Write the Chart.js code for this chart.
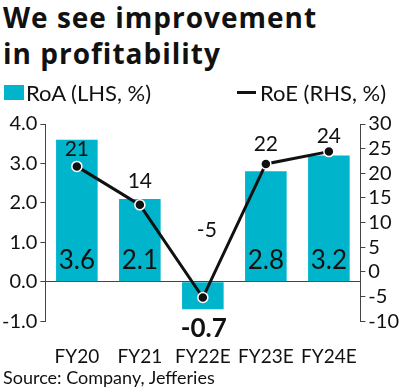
<!DOCTYPE html>
<html>
<head>
<meta charset="utf-8">
<script src="https://cdn.jsdelivr.net/npm/chart.js@4/dist/chart.umd.min.js"></script>
<style>
  html, body { margin: 0; padding: 0; background: #fff; }
  body { width: 399px; height: 392px; position: relative; overflow: hidden; font-family: "Lato", sans-serif; color: #111; }
  #title { position: absolute; left: 3px; top: -1px; font-family: "Open Sans", sans-serif; font-weight: 700; font-size: 28px; line-height: 36px; letter-spacing: 1px; z-index: 2; }
  #legend { position: absolute; left: 0; top: 78px; width: 399px; height: 28px; font-size: 22px; z-index: 2; }
  .leg { position: absolute; top: 0; display: flex; align-items: center; height: 28px; }
  .sw { width: 20px; height: 15px; background: #00B5CB; margin-right: 2px; }
  .ln { width: 19px; height: 3px; background: #111; margin-right: 4px; }
  #wrap { position: absolute; left: -1px; top: 104px; width: 403px; height: 280px; }
  #source { position: absolute; left: 3px; top: 366px; font-size: 18px; z-index: 2; }
</style>
</head>
<body>
<div id="title">We see improvement<br>in profitability</div>
<div id="legend">
  <div class="leg" style="left:4px"><div class="sw"></div><span>RoA (LHS, %)</span></div>
  <div class="leg" style="left:237px"><div class="ln"></div><span>RoE (RHS, %)</span></div>
</div>
<div id="wrap"><canvas id="c" width="403" height="280"></canvas></div>
<div id="source">Source: Company, Jefferies</div>
<script>
const categories = ["FY20", "FY21", "FY22E", "FY23E", "FY24E"];
const roa = [3.6, 2.1, -0.7, 2.8, 3.2];
const roe = [21.4, 13.6, -5.2, 21.9, 24.4];
const leftTicks = [-1, 0, 1, 2, 3, 4];
const rightTicks = [-10, -5, 0, 5, 10, 15, 20, 25, 30];

const TEAL = '#00B5CB';
const INK = '#111';
const FONT = 'Lato, sans-serif';

const labelPlugin = {
  id: 'valueLabels',
  afterDatasetsDraw(chart) {
    const ctx = chart.ctx;
    ctx.save();
    ctx.textAlign = 'center';
    ctx.textBaseline = 'middle';
    ctx.fillStyle = INK;
    const yL = chart.scales.yL;
    const zeroY = yL.getPixelForValue(0);
    const barMeta = chart.getDatasetMeta(0);
    barMeta.data.forEach((el, i) => {
      const v = roa[i];
      if (v >= 0) {
        ctx.font = '26px ' + FONT;
        ctx.fillText(v.toFixed(1), el.x, zeroY - 21);
      } else {
        ctx.font = 'bold 26px ' + FONT;
        ctx.fillText(v.toFixed(1), el.x + 1, el.y + 19);
      }
    });
    const lineMeta = chart.getDatasetMeta(1);
    const offs = [17, 24, 67, 20, 15];
    const dx = [0, 0, 4, 0, 0];
    lineMeta.data.forEach((el, i) => {
      ctx.font = '21px ' + FONT;
      ctx.fillText(String(Math.round(roe[i])), el.x + dx[i], el.y - offs[i]);
    });
    ctx.restore();
  }
};

new Chart(document.getElementById('c'), {
  data: {
    labels: categories,
    datasets: [
      {
        type: 'bar', data: roa, yAxisID: 'yL', backgroundColor: TEAL,
        categoryPercentage: 1, barPercentage: 0.66, order: 2
      },
      {
        type: 'line', data: roe, yAxisID: 'yR', borderColor: INK, borderWidth: 3,
        pointRadius: 5, pointBackgroundColor: INK, pointBorderColor: '#fff', pointBorderWidth: 1.5,
        tension: 0, order: 1
      }
    ]
  },
  options: {
    responsive: false, animation: false,
    layout: { padding: { top: 20, left: 0, right: 0, bottom: 0 } },
    plugins: { legend: { display: false }, tooltip: { enabled: false } },
    scales: {
      x: {
        grid: { display: false }, border: { display: false },
        ticks: { color: INK, font: { family: FONT, size: 19 }, padding: 16, maxRotation: 0 }
      },
      yL: {
        position: 'left', min: -1, max: 4,
        afterBuildTicks: s => { s.ticks = leftTicks.map(v => ({ value: v })); },
        grid: { drawOnChartArea: true, color: c => (c.tick && c.tick.value === 0 ? '#444' : 'rgba(0,0,0,0)'), tickColor: '#444', tickLength: 5, lineWidth: 1 },
        border: { display: true, color: '#444' },
        ticks: { color: INK, font: { family: FONT, size: 20 }, padding: 3, autoSkip: false, callback: v => v.toFixed(1) }
      },
      yR: {
        position: 'right', min: -10, max: 30,
        afterBuildTicks: s => { s.ticks = rightTicks.map(v => ({ value: v })); },
        grid: { drawOnChartArea: false, tickColor: '#444', tickLength: 5 },
        border: { display: true, color: '#444' },
        ticks: { color: INK, font: { family: FONT, size: 20 }, padding: 3, autoSkip: false }
      }
    }
  },
  plugins: [labelPlugin]
});
</script>
</body>
</html>
